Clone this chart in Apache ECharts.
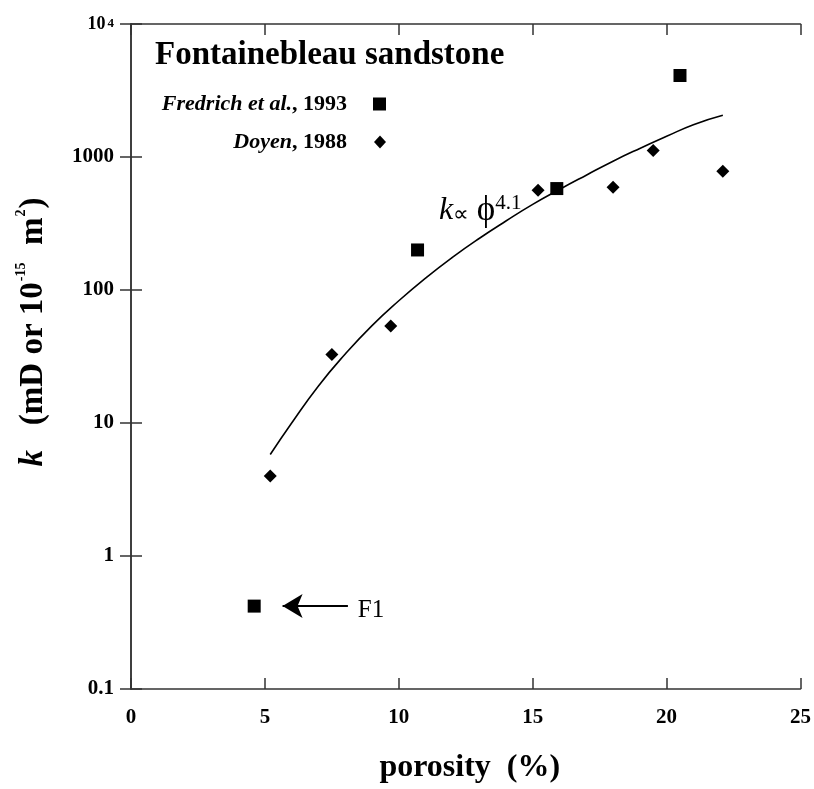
<!DOCTYPE html>
<html>
<head>
<meta charset="utf-8">
<script src="https://cdn.jsdelivr.net/npm/echarts@6/dist/echarts.min.js"></script>
<style>
  html, body { margin: 0; padding: 0; background: #fff; }
  #chart { width: 814px; height: 789px; }
</style>
</head>
<body>
<div id="chart"></div>
<script>
// Fontainebleau sandstone permeability vs porosity
const SERIF = '"Liberation Serif", "Times New Roman", serif';

// Fredrich et al., 1993: [porosity %, permeability mD]
const fredrichPorosity = [4.6, 10.7, 15.9, 20.5];
const fredrichPerm = [0.42, 200, 579, 4100];

// Doyen, 1988
const doyenPorosity = [5.2, 7.5, 9.7, 15.2, 18.0, 19.5, 22.1];
const doyenPerm = [4.0, 32.8, 53.7, 562, 593, 1117, 780];

// k ∝ φ^4.1 trend line
const trendPorosity = [5.2, 6, 7, 8, 9, 10, 11, 12, 13, 14, 15, 16, 17, 18, 19, 20, 21, 22.1];
const trendPerm = [5.8, 10, 19, 33, 54, 83, 123, 176, 244, 330, 440, 570, 730, 930, 1160, 1430, 1750, 2060];

// F1 sample pointer (arrow from x = 8.1 to 5.66 at k = 0.42, tag centred at x = 8.96)
const f1Arrow = { fromX: 8.1, toX: 5.66, k: 0.42, labelX: 8.96, label: 'F1' };

// axis ticks
const xTicks = [0, 5, 10, 15, 20, 25];
const yTickValues = [0.1, 1, 10, 100, 1000, 10000];
const yTickLabels = ['0.1', '1', '10', '100', '1000', '10^4'];

const zip = (xs, ys) => xs.map((x, i) => [x, ys[i]]);

const chart = echarts.init(document.getElementById('chart'), null, { renderer: 'canvas' });

const axisLineStyle = { color: '#333', width: 1.5 };
const tickStyle = { show: true, inside: true, length: 11, lineStyle: { color: '#333', width: 1.5 } };

const legendRich = {
  i: { fontFamily: SERIF, fontSize: 22, fontWeight: 'bold', fontStyle: 'italic', color: '#000' },
  b: { fontFamily: SERIF, fontSize: 22, fontWeight: 'bold', color: '#000' }
};

const option = {
  backgroundColor: '#ffffff',
  animation: false,
  title: {
    text: 'Fontainebleau sandstone',
    left: 155,
    top: 39,
    padding: 0,
    textStyle: { fontFamily: SERIF, fontWeight: 'bold', fontSize: 33, color: '#000' }
  },
  legend: [
    {
      data: ['Fredrich et al., 1993'],
      right: 428,
      top: 93,
      align: 'right',
      icon: 'rect',
      itemWidth: 13,
      itemHeight: 13,
      padding: 0,
      selectedMode: false,
      formatter: () => '{i|Fredrich et al.}{b|, 1993}',
      textStyle: { padding: [0, 21, 0, 0], rich: legendRich }
    },
    {
      data: ['Doyen, 1988'],
      right: 428,
      top: 131,
      align: 'right',
      icon: 'diamond',
      itemWidth: 12,
      itemHeight: 13,
      padding: 0,
      selectedMode: false,
      formatter: () => '{i|Doyen}{b|, 1988}',
      textStyle: { padding: [0, 22, 0, 0], rich: legendRich }
    }
  ],
  grid: { left: 131, right: 12, top: 24, bottom: 94, containLabel: false },
  xAxis: [
    {
      type: 'value',
      position: 'bottom',
      min: xTicks[0],
      max: xTicks[xTicks.length - 1],
      interval: 5,
      axisLine: { show: true, lineStyle: axisLineStyle },
      axisTick: tickStyle,
      splitLine: { show: false },
      axisLabel: {
        margin: 18,
        fontFamily: SERIF, fontWeight: 'bold', fontSize: 21, color: '#000'
      },
      name: 'porosity  (%)',
      nameLocation: 'middle',
      nameGap: 63,
      nameTextStyle: { fontFamily: SERIF, fontWeight: 'bold', fontSize: 32, color: '#000', padding: [0, 0, 0, 8] }
    },
    {
      type: 'value',
      position: 'top',
      min: xTicks[0],
      max: xTicks[xTicks.length - 1],
      interval: 5,
      axisLine: { show: true, lineStyle: axisLineStyle },
      axisTick: tickStyle,
      splitLine: { show: false },
      axisLabel: { show: false }
    }
  ],
  yAxis: [
    {
      type: 'log',
      logBase: 10,
      position: 'left',
      min: yTickValues[0],
      max: yTickValues[yTickValues.length - 1],
      axisLine: { show: true, lineStyle: axisLineStyle },
      axisTick: tickStyle,
      splitLine: { show: false },
      axisLabel: {
        margin: 17,
        fontFamily: SERIF, fontWeight: 'bold', fontSize: 21, color: '#000',
        formatter: (v) => {
          const idx = yTickValues.findIndex(t => Math.abs(Math.log10(t) - Math.log10(v)) < 1e-6);
          if (idx < 0) return '';
          const lab = yTickLabels[idx];
          if (lab.indexOf('^') >= 0) {
            const parts = lab.split('^');
            return '{base|' + parts[0] + '}{sup|' + parts[1] + '}';
          }
          return lab;
        },
        rich: {
          base: { fontFamily: SERIF, fontWeight: 'bold', fontSize: 18, lineHeight: 18, color: '#000', verticalAlign: 'bottom', padding: [6, 0, 0, 0] },
          sup: { fontFamily: SERIF, fontWeight: 'bold', fontSize: 13, lineHeight: 13, color: '#000', verticalAlign: 'top', padding: [2, 0, 0, 2] }
        }
      }
    },
    {
      type: 'log',
      logBase: 10,
      position: 'right',
      min: yTickValues[0],
      max: yTickValues[yTickValues.length - 1],
      axisLine: { show: true, lineStyle: axisLineStyle },
      axisTick: tickStyle,
      splitLine: { show: false },
      axisLabel: { show: false }
    }
  ],
  graphic: [
    {
      // y-axis title, rotated to read bottom to top
      type: 'text',
      x: 33,
      y: 332,
      rotation: Math.PI / 2,
      style: {
        text: '{k|k}{t|   (mD or 10}{s|-15}{t|  m}{s|2}{t|)}',
        align: 'center',
        verticalAlign: 'middle',
        rich: {
          k: { fontFamily: SERIF, fontWeight: 'bold', fontStyle: 'italic', fontSize: 33, lineHeight: 38, fill: '#000' },
          t: { fontFamily: SERIF, fontWeight: 'bold', fontSize: 33, lineHeight: 38, fill: '#000' },
          s: { fontFamily: SERIF, fontWeight: 'bold', fontSize: 14, lineHeight: 18, fill: '#000', verticalAlign: 'top', padding: [0, 1, 0, 1] }
        }
      }
    },
    {
      // trend line label: k ∝ ϕ^4.1
      type: 'text',
      x: 439,
      y: 192,
      style: {
        text: '{k|k}{p|∝}{g| }{f|ϕ}{s|4.1}',
        rich: {
          k: { fontFamily: SERIF, fontStyle: 'italic', fontSize: 32, lineHeight: 38, fill: '#000' },
          p: { fontFamily: SERIF, fontSize: 22, lineHeight: 38, fill: '#000', verticalAlign: 'bottom', padding: [0, 0, 4, 0] },
          g: { fontFamily: SERIF, fontSize: 30, lineHeight: 38, fill: '#000' },
          f: { fontFamily: SERIF, fontSize: 35, lineHeight: 38, fill: '#000' },
          s: { fontFamily: SERIF, fontSize: 21, lineHeight: 20, fill: '#000', verticalAlign: 'top', padding: [1, 0, 0, 0] }
        }
      }
    }
  ],
  series: [
    {
      name: 'k ∝ φ^4.1',
      type: 'line',
      data: zip(trendPorosity, trendPerm),
      showSymbol: false,
      symbol: 'none',
      smooth: true,
      silent: true,
      lineStyle: { color: '#000', width: 1.6 },
      z: 2
    },
    {
      name: 'Fredrich et al., 1993',
      type: 'scatter',
      data: zip(fredrichPorosity, fredrichPerm),
      symbol: 'rect',
      symbolSize: 13,
      itemStyle: { color: '#000', opacity: 1 },
      z: 3
    },
    {
      name: 'Doyen, 1988',
      type: 'scatter',
      data: zip(doyenPorosity, doyenPerm),
      symbol: 'diamond',
      symbolSize: 13,
      itemStyle: { color: '#000', opacity: 1 },
      z: 3
    },
    {
      name: 'F1 pointer',
      type: 'line',
      data: [],
      silent: true,
      markLine: {
        silent: true,
        animation: false,
        symbol: ['none', 'arrow'],
        symbolSize: [18, 20],
        lineStyle: { color: '#000', width: 2, type: 'solid' },
        label: { show: false },
        data: [[
          { coord: [f1Arrow.fromX, f1Arrow.k] },
          { coord: [f1Arrow.toX, f1Arrow.k] }
        ]]
      },
      markPoint: {
        silent: true,
        animation: false,
        symbol: 'circle',
        symbolSize: 1,
        itemStyle: { color: 'rgba(0,0,0,0)' },
        label: {
          show: true,
          position: 'inside',
          offset: [0, 4],
          formatter: f1Arrow.label,
          fontFamily: SERIF, fontSize: 25, color: '#000'
        },
        data: [{ coord: [f1Arrow.labelX, f1Arrow.k] }]
      }
    }
  ]
};

chart.setOption(option);
</script>
</body>
</html>
